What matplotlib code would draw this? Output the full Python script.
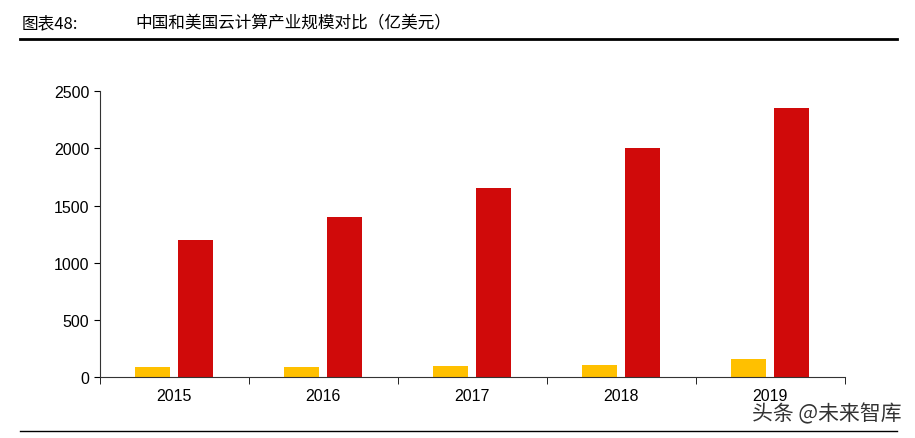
import numpy as np
import matplotlib.pyplot as plt
from matplotlib.lines import Line2D

plt.rcParams['font.family'] = ['Noto Sans CJK SC', 'DejaVu Sans']

years = ['2015', '2016', '2017', '2018', '2019']
china = [85, 85, 95, 105, 160]
usa = [1200, 1400, 1650, 2000, 2350]

fig = plt.figure(figsize=(9.15, 4.39), dpi=100)
ax = fig.add_axes([0.109, 0.139, 0.814, 0.651])

x = np.arange(len(years))
w = 0.235
ax.bar(x - 0.145, china, w, color='#FFC000')
ax.bar(x + 0.145, usa, w, color='#D00A0A')

ax.set_xlim(-0.5, len(years) - 0.5)
ax.set_ylim(0, 2500)
ax.set_yticks(range(0, 2501, 500))
ax.set_xticks(x)
ax.set_xticklabels(years)
ax.set_xticks(np.arange(-0.5, len(years)), minor=True)
ax.tick_params(axis='x', which='major', length=0, pad=8)
ax.tick_params(axis='x', which='minor', length=5, direction='out')
ax.tick_params(axis='y', direction='out', length=4)
for lab in ax.get_xticklabels() + ax.get_yticklabels():
    lab.set_fontfamily('Liberation Sans')
    lab.set_fontsize(11.5)
for s in ['top', 'right']:
    ax.spines[s].set_visible(False)
for s in ['left', 'bottom']:
    ax.spines[s].set_color('#333333')

fig.text(0.024, 0.945, '图表48:', fontsize=12, va='center')
fig.text(0.148, 0.945, '中国和美国云计算产业规模对比（亿美元）', fontsize=12, va='center')
fig.add_artist(Line2D([0.022, 0.98], [0.91, 0.91], color='black', lw=2))
fig.add_artist(Line2D([0.022, 0.98], [0.016, 0.016], color='black', lw=1))
fig.text(0.985, 0.055, '头条 @未来智库', fontsize=15, ha='right', va='center', color='#333333')

fig.savefig('out.png', dpi=100)
